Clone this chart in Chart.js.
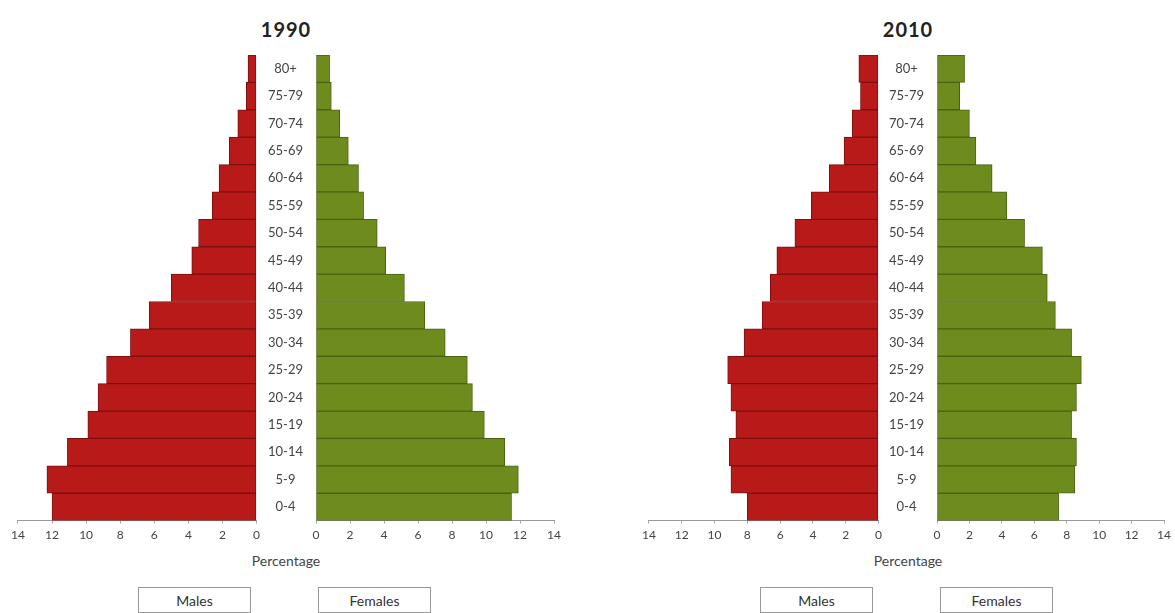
<!DOCTYPE html>
<html lang="en">
<head>
<meta charset="UTF-8">
<title>Population pyramids 1990 / 2010</title>
<script src="https://cdn.jsdelivr.net/npm/chart.js"></script>
<style>
    body { margin: 0; background: #fff; font-family: Lato, "Open Sans", sans-serif; color: #333; }
    #page { position: relative; width: 1175px; height: 613px; overflow: hidden; }
    .box { position: absolute; }
    .title { position: absolute; width: 120px; text-align: center; font-weight: bold; font-size: 20px; color: #222; letter-spacing: 1px; }
    .xlabel { position: absolute; width: 140px; text-align: center; font-size: 14px; color: #444; }
    .legend { position: absolute; width: 113px; height: 26px; border: 1px solid #999; box-sizing: border-box;
              text-align: center; font-size: 14px; line-height: 26px; color: #333; background: #fff; }
</style>
</head>
<body>
<div id="page">
    <div class="title" style="left:226px; top:17px;">1990</div>
    <div class="title" style="left:848px; top:17px;">2010</div>

    <div class="box" style="left:7px; top:45px; width:257px; height:501px;"><canvas id="m1990"></canvas></div>
    <div class="box" style="left:255px; top:45px; width:310px; height:501px;"><canvas id="f1990"></canvas></div>
    <div class="box" style="left:638px; top:45px; width:248px; height:501px;"><canvas id="m2010"></canvas></div>
    <div class="box" style="left:876px; top:45px; width:299px; height:501px;"><canvas id="f2010"></canvas></div>

    <div class="xlabel" style="left:216px; top:552px;">Percentage</div>
    <div class="xlabel" style="left:838px; top:552px;">Percentage</div>

    <div class="legend" style="left:138px; top:587px;">Males</div>
    <div class="legend" style="left:318px; top:587px;">Females</div>
    <div class="legend" style="left:760px; top:587px;">Males</div>
    <div class="legend" style="left:940px; top:587px;">Females</div>
</div>

<script>
// age groups, youngest first (drawn bottom to top)
const ageGroups = ["0-4", "5-9", "10-14", "15-19", "20-24", "25-29", "30-34", "35-39",
                   "40-44", "45-49", "50-54", "55-59", "60-64", "65-69", "70-74", "75-79", "80+"];

// percentage of population
const males1990   = [12.0, 12.3, 11.1, 9.9, 9.3, 8.8, 7.4, 6.3, 5.0, 3.8, 3.4, 2.6, 2.2, 1.6, 1.1, 0.6, 0.5];
const females1990 = [11.5, 11.9, 11.1, 9.9, 9.2, 8.9, 7.6, 6.4, 5.2, 4.1, 3.6, 2.8, 2.5, 1.9, 1.4, 0.9, 0.8];
const males2010   = [8.0, 9.0, 9.1, 8.7, 9.0, 9.2, 8.2, 7.1, 6.6, 6.2, 5.1, 4.1, 3.0, 2.1, 1.6, 1.1, 1.2];
const females2010 = [7.5, 8.5, 8.6, 8.3, 8.6, 8.9, 8.3, 7.3, 6.8, 6.5, 5.4, 4.3, 3.4, 2.4, 2.0, 1.4, 1.7];

const axisMax = 14;
const redFill = "#b81a1a", redEdge = "#7e0f0f";
const greenFill = "#6e8b1e", greenEdge = "#4a6210";

function makeSide(id, values, isMale) {
    const ctx = document.getElementById(id).getContext("2d");
    const yAxis = {
        reverse: true,
        display: !isMale,
        ticks: { crossAlign: "center", padding: 0, color: "#444",
                 font: { family: "Lato", size: 13 } },
        // hidden tick marks, their length just pushes the labels into the middle of the gap
        grid: { display: false, drawTicks: true, tickLength: 13 },
        border: { display: false }
    };
    // the age labels sit in the gap between the two halves
    if (!isMale) yAxis.afterFit = function(axis) { axis.width = 61; };

    return new Chart(ctx, {
        type: "bar",
        data: {
            labels: ageGroups,
            datasets: [{
                data: values,
                backgroundColor: isMale ? redFill : greenFill,
                borderColor: isMale ? redEdge : greenEdge,
                borderWidth: 1,
                borderSkipped: false,
                barPercentage: 1,
                categoryPercentage: 1
            }]
        },
        options: {
            indexAxis: "y",
            responsive: true,
            maintainAspectRatio: false,
            animation: false,
            events: [],
            layout: { padding: { top: 10, left: 0, right: 0, bottom: 0 } },
            plugins: { legend: { display: false }, tooltip: { enabled: false }, title: { display: false } },
            scales: {
                x: {
                    min: 0,
                    max: axisMax,
                    reverse: isMale,
                    ticks: { stepSize: 2, color: "#444", padding: 4, maxRotation: 0,
                             font: { family: "Lato", size: 12 } },
                    grid: { display: true, drawOnChartArea: false, drawTicks: true, tickLength: 3, color: "#aaa" },
                    border: { display: true, color: "#999", width: 1 }
                },
                y: yAxis
            }
        }
    });
}

makeSide("m1990", males1990, true);
makeSide("f1990", females1990, false);
makeSide("m2010", males2010, true);
makeSide("f2010", females2010, false);
</script>
</body>
</html>
